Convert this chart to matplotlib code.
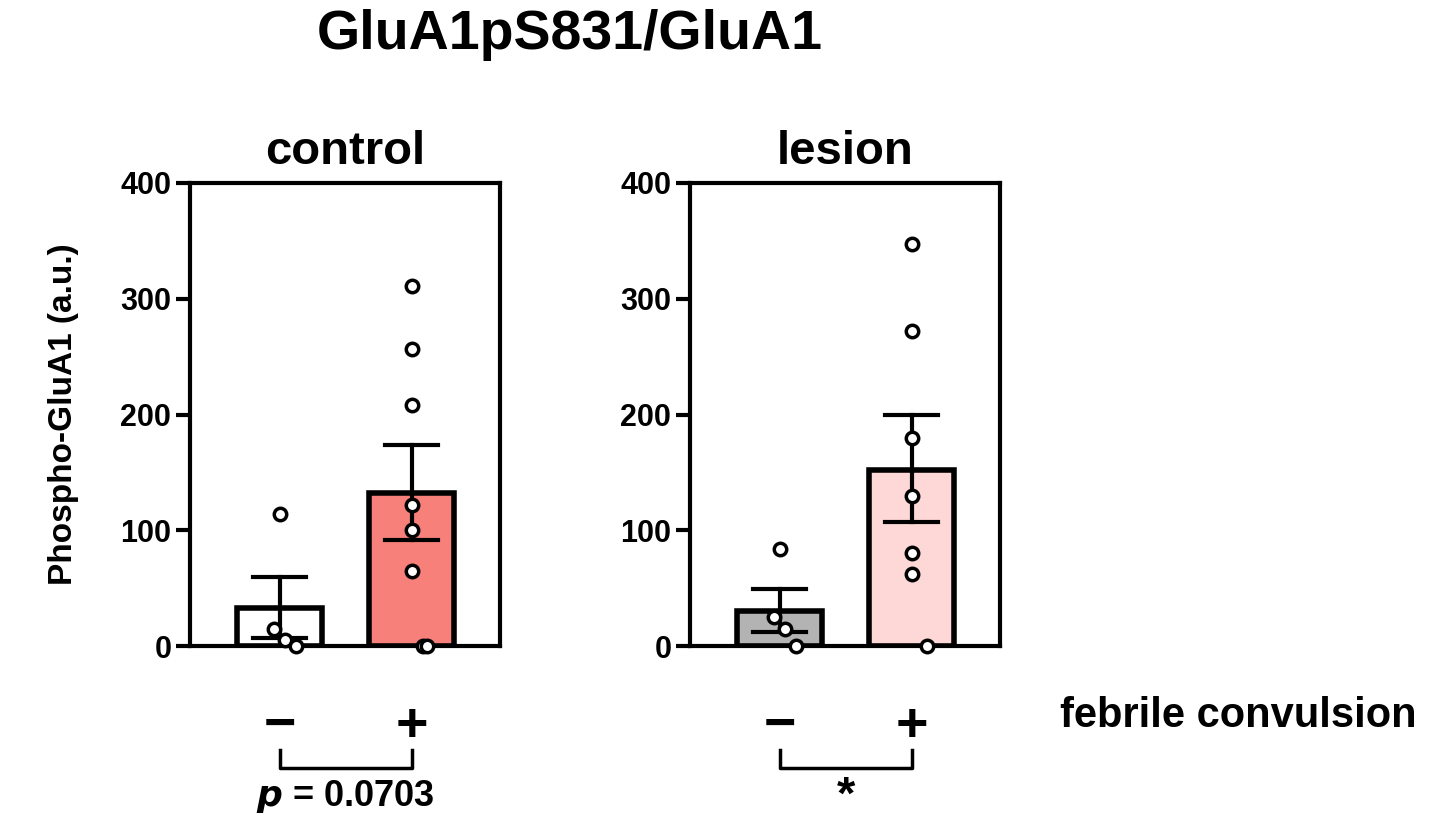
import numpy as np
import matplotlib.pyplot as plt

plt.rcParams['font.family'] = ['Liberation Sans', 'DejaVu Sans']
plt.rcParams['font.weight'] = 'bold'

groups = ['control', 'lesion']
means = [[33, 132], [30, 152]]
errs = [[(7, 60), (92, 174)], [(12, 49), (107, 200)]]
points = [
    [[114, 15, 5, 0], [311, 257, 208, 122, 100, 65, 0, 0]],
    [[84, 25, 15, 0], [347, 272, 180, 130, 80, 62, 0]],
]
colors = [['white', '#F7807A'], ['#B3B3B3', '#FDD8D6']]
pvals = ['$\\it{p}$ = 0.0703', '*']

fig = plt.figure(figsize=(14.4, 8.26), dpi=100)
W, H = 1440, 826
for g in range(2):
    x0 = 190 if g == 0 else 690
    ax = fig.add_axes([x0 / W, 1 - 646 / H, 310 / W, (646 - 183) / H])
    for i in range(2):
        ax.bar(i, means[g][i], width=0.64, color=colors[g][i], edgecolor='black', linewidth=4, zorder=1)
        lo, hi = errs[g][i]
        ax.plot([i, i], [lo, hi], color='black', lw=3, zorder=3)
        ax.plot([i - 0.2, i + 0.2], [hi, hi], color='black', lw=3, zorder=3)
        ax.plot([i - 0.2, i + 0.2], [lo, lo], color='black', lw=3, zorder=3)
        pts = points[g][i]
        offs = np.linspace(-0.12, 0.12, len(pts))
        # spread points roughly like the reference
        xs = [i + (o if p < 40 else 0) for p, o in zip(pts, offs)]
        ax.scatter(xs, pts, s=80, facecolor='white', edgecolor='black', linewidth=2.5, zorder=4, clip_on=False)
    ax.set_xlim(-0.68, 1.67)
    ax.set_ylim(0, 400)
    ax.set_yticks([0, 100, 200, 300, 400])
    ax.tick_params(axis='y', labelsize=22, width=3, length=10)
    ax.set_xticks([])
    for s in ax.spines.values():
        s.set_linewidth(3)
    ax.set_title(groups[g], fontsize=34, fontweight='bold', pad=14)
    ax.text(0, -70, '−', fontsize=40, ha='center', va='center', fontweight='bold')
    ax.text(1, -70, '+', fontsize=40, ha='center', va='center', fontweight='bold')
    ax.plot([0, 0, 1, 1], [-90, -105, -105, -90], color='black', lw=2.5, clip_on=False)
    ax.text(0.5, -130, pvals[g], fontsize=26 if g == 0 else 34, ha='center', va='center', fontweight='bold')
    if g == 0:
        ax.set_ylabel('Phospho-GluA1 (a.u.)', fontsize=24, fontweight='bold', labelpad=30)

fig.text(1238 / W, 1 - 716 / H, 'febrile convulsion', fontsize=30, ha='center', va='center', fontweight='bold')
fig.text(570 / W, 1 - 35 / H, 'GluA1pS831/GluA1', fontsize=40, ha='center', va='center', fontweight='bold')
fig.savefig('out.png', dpi=100)
